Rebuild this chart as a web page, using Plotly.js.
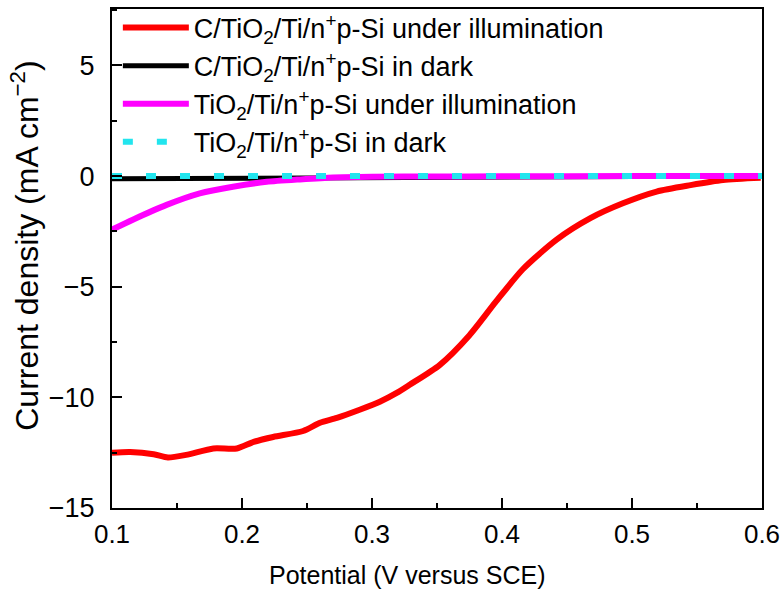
<!DOCTYPE html>
<html>
<head>
<meta charset="utf-8">
<script src="https://cdn.plot.ly/plotly-3.0.1.min.js"></script>
<style>html,body{margin:0;padding:0;background:#fff;}#chart{width:781px;height:592px;}</style>
</head>
<body>
<div id="chart"></div>
<script>
// Potential (V versus SCE)
const redX = [0.1, 0.114, 0.132, 0.143, 0.157, 0.178, 0.196, 0.209, 0.224, 0.247, 0.26, 0.273, 0.291, 0.306, 0.319, 0.329, 0.352, 0.375, 0.395, 0.416, 0.442, 0.468, 0.493, 0.519, 0.545, 0.570, 0.599];
const redY = [-12.5, -12.47, -12.57, -12.72, -12.6, -12.31, -12.31, -12.01, -11.79, -11.52, -11.15, -10.93, -10.55, -10.2, -9.8, -9.43, -8.54, -7.19, -5.7, -4.21, -2.87, -1.9, -1.23, -0.70, -0.41, -0.18, -0.08];

const blackX = [0.1, 0.15, 0.2, 0.25, 0.3, 0.35, 0.4, 0.5, 0.6];
const blackY = [-0.12, -0.11, -0.09, -0.07, -0.05, -0.03, -0.02, -0.01, 0];

const magentaX = [0.1, 0.116, 0.142, 0.1675, 0.193, 0.219, 0.2445, 0.27, 0.3, 0.35, 0.4, 0.5, 0.6];
const magentaY = [-2.42, -1.97, -1.30, -0.78, -0.48, -0.26, -0.15, -0.06, -0.03, -0.02, -0.01, 0, 0];

const cyanX = [0.1, 0.2, 0.3, 0.4, 0.5, 0.6];
const cyanY = [0, 0, 0, 0, 0, 0];

const names = [
  'C/TiO<sub>2</sub>/Ti/n<sup>+</sup>p-Si under illumination',
  'C/TiO<sub>2</sub>/Ti/n<sup>+</sup>p-Si in dark',
  'TiO<sub>2</sub>/Ti/n<sup>+</sup>p-Si under illumination',
  'TiO<sub>2</sub>/Ti/n<sup>+</sup>p-Si in dark'
];

const xTicks = [0.1, 0.2, 0.3, 0.4, 0.5, 0.6];
const yTicks = [-15, -10, -5, 0, 5];
const xTitle = 'Potential (V versus SCE)';
const yTitle = 'Current density (mA cm<sup>−2</sup>)';

const traces = [
  {x: redX, y: redY, name: names[0], mode: 'lines', line: {color: '#ff0000', width: 6, shape: 'spline', smoothing: 0.7}},
  {x: blackX, y: blackY, name: names[1], mode: 'lines', line: {color: '#000000', width: 5}},
  {x: magentaX, y: magentaY, name: names[2], mode: 'lines', line: {color: '#ff00ff', width: 6, shape: 'spline', smoothing: 0.6}},
  {x: cyanX, y: cyanY, name: names[3], mode: 'lines', line: {color: '#22e5ee', width: 6, dash: '10px,24px'}}
];

const fontFam = 'Arial, "Liberation Sans", Helvetica, sans-serif';

const layout = {
  width: 781, height: 592,
  margin: {l: 112, r: 19, t: 4, b: 84},
  paper_bgcolor: '#fff', plot_bgcolor: '#fff',
  font: {family: fontFam, color: '#000', size: 22},
  showlegend: true,
  legend: {x: 0.009, y: 1.011, xanchor: 'left', yanchor: 'top', bgcolor: 'rgba(0,0,0,0)', font: {size: 27, family: fontFam, color: '#000'}, itemwidth: 66, tracegroupgap: 0},
  xaxis: {
    range: [0.1, 0.6], tickvals: xTicks, ticktext: xTicks.map(v => v.toFixed(1)),
    ticks: 'inside', ticklen: 10, tickwidth: 2, tickcolor: '#000',
    minor: {ticks: 'inside', ticklen: 5, tickwidth: 2, tickcolor: '#000', dtick: 0.05, tick0: 0.1, showgrid: false},
    showline: true, linewidth: 2, linecolor: '#000', mirror: true,
    showgrid: false, zeroline: false, automargin: false,
    ticklabelstandoff: 2,
    tickfont: {size: 26, family: fontFam},
    title: {text: ''}
  },
  yaxis: {
    range: [-15, 7.55], tickvals: yTicks,
    ticks: 'inside', ticklen: 10, tickwidth: 2, tickcolor: '#000',
    minor: {ticks: 'inside', ticklen: 5, tickwidth: 2, tickcolor: '#000', dtick: 2.5, tick0: 0, showgrid: false},
    showline: true, linewidth: 2, linecolor: '#000', mirror: true,
    showgrid: false, zeroline: false, automargin: false,
    ticklabelstandoff: 10,
    tickfont: {size: 27, family: fontFam},
    title: {text: ''}
  },
  annotations: [
    {
      text: yTitle, xref: 'paper', yref: 'paper', x: -0.135, y: 0.526,
      xanchor: 'center', yanchor: 'middle', textangle: -90, showarrow: false,
      font: {size: 32, family: fontFam, color: '#000'}
    },
    {
      text: xTitle, xref: 'paper', yref: 'paper', x: 0.454, y: -0.135,
      xanchor: 'center', yanchor: 'middle', showarrow: false,
      font: {size: 25, family: fontFam, color: '#000'}
    }
  ]
};

Plotly.newPlot('chart', traces, layout, {displayModeBar: false, staticPlot: true});
</script>
</body>
</html>
